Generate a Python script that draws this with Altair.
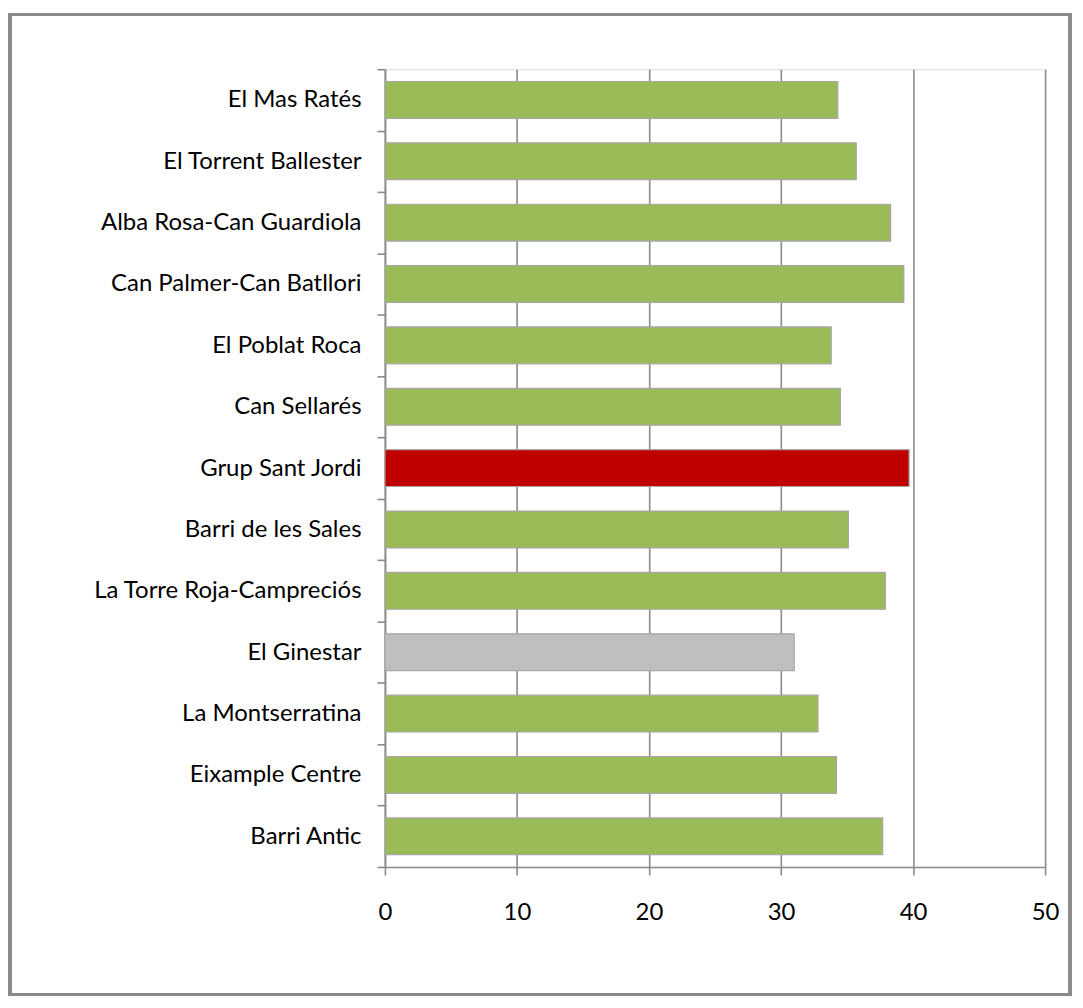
import altair as alt
import pandas as pd

categories = [
    "El Mas Ratés", "El Torrent Ballester", "Alba Rosa-Can Guardiola",
    "Can Palmer-Can Batllori", "El Poblat Roca", "Can Sellarés",
    "Grup Sant Jordi", "Barri de les Sales", "La Torre Roja-Campreciós",
    "El Ginestar", "La Montserratina", "Eixample Centre", "Barri Antic",
]
values = [34.3, 35.7, 38.3, 39.3, 33.8, 34.5, 39.7, 35.1, 37.9, 31.0, 32.8, 34.2, 37.7]
colors = ["#9BBB59"] * 6 + ["#C00000"] + ["#9BBB59"] * 2 + ["#BFBFBF"] + ["#9BBB59"] * 3
x_ticks = [0, 10, 20, 30, 40, 50]

df = pd.DataFrame({"cat": categories, "val": values, "col": colors})

FONT = "Lato"
FS = 24
GRID = "#8a8a8a"

bars = alt.Chart(df).mark_bar(stroke="#a6a6a6", strokeWidth=1.2,
                              height=alt.RelativeBandSize(0.6)).encode(
    y=alt.Y("cat:N", sort=categories,
            scale=alt.Scale(paddingInner=0, paddingOuter=0),
            axis=alt.Axis(title=None, tickBand="extent", tickSize=8, tickColor=GRID,
                          domainColor=GRID, domainWidth=1.6, tickWidth=1.6,
                          labelPadding=16, labelFontSize=FS, labelFont=FONT,
                          labelColor="#000000", grid=False, labelLimit=400)),
    x=alt.X("val:Q", scale=alt.Scale(domain=[0, 50], nice=False),
            axis=alt.Axis(title=None, values=x_ticks, tickSize=8, tickColor=GRID,
                          domainColor=GRID, domainWidth=1.6, tickWidth=1.6,
                          gridColor=GRID, gridWidth=1.6, grid=True,
                          labelPadding=26, labelFontSize=FS, labelFont=FONT,
                          labelFlush=False, labelColor="#000000")),
    color=alt.Color("col:N", scale=None),
)

border = alt.Chart(df).mark_rect(filled=False, stroke="#8a8a8a", strokeWidth=2.5).encode(
    x=alt.value(-376), x2=alt.value(687), y=alt.value(-55), y2=alt.value(928),
)

chart = alt.layer(border, bars).properties(
    width=662, height=800,
    autosize=alt.AutoSizeParams(type="none"),
    padding={"left": 378, "top": 60, "right": 30, "bottom": 135},
).configure_view(stroke=None).configure(background="white")

chart.save("out.html", embed_options={"renderer": "svg", "actions": False})
